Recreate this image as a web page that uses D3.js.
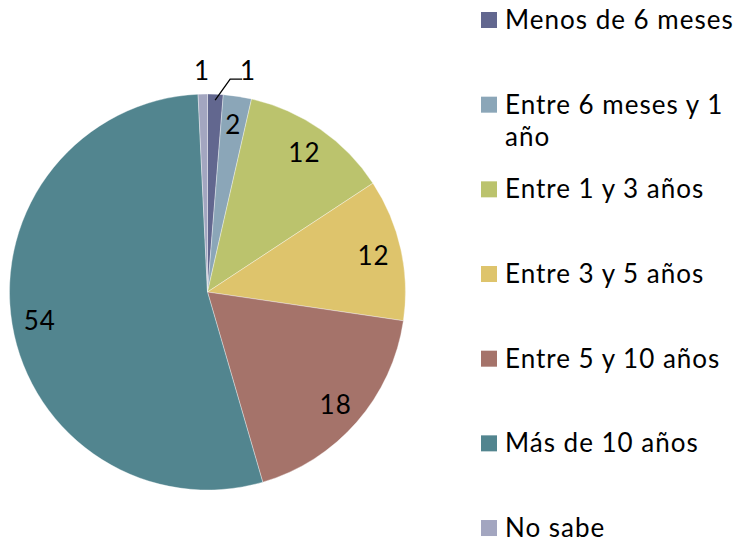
<!DOCTYPE html>
<html><head><meta charset="utf-8">
<script src="https://cdn.jsdelivr.net/npm/d3@7"></script>
<style>html,body{margin:0;padding:0;background:#fff;}svg{display:block;}</style>
</head><body><svg id="c" width="741" height="542"></svg>
<script>
const categories = ["Menos de 6 meses","Entre 6 meses y 1 año","Entre 1 y 3 años","Entre 3 y 5 años","Entre 5 y 10 años","Más de 10 años","No sabe"];
const values = [1.27, 2.30, 12.17, 11.58, 18.18, 53.74, 0.76];
const dataLabels = ["1","2","12","12","18","54","1"];
const colors = ["#62678f","#8ba6b8","#bbc36d","#dec46c","#a5736a","#52858f","#a3a6c0"];

const FONT = "Lato, 'Noto Sans', sans-serif";
const svg = d3.select("#c");
const cx = 207.5, cy = 292, R = 198;
const g = svg.append("g").attr("transform", `translate(${cx},${cy})`);

const pie = d3.pie().sort(null).value(d => d.v);
const data = categories.map((c,i)=>({c, v: values[i], lab: dataLabels[i], col: colors[i]}));
const arcs = pie(data);
const arc = d3.arc().innerRadius(0).outerRadius(R);

g.selectAll("path.s").data(arcs).join("path")
  .attr("class","s").attr("d", arc).attr("fill", d=>d.data.col)
  .attr("stroke","#fff").attr("stroke-width",0.6).attr("stroke-opacity",0.6);

const inArc = d3.arc().innerRadius(2*170 - R).outerRadius(R); // centroid radius 170
const outArc = d3.arc().innerRadius(224).outerRadius(224);
function label(x,y,t){
  g.append("text").attr("x",x).attr("y",y).attr("text-anchor","middle")
    .attr("dominant-baseline","central").attr("font-family",FONT).attr("font-size",26)
    .attr("letter-spacing",1).attr("fill","#000").text(t);
}
arcs.forEach(a => {
  const frac = (a.endAngle - a.startAngle) / (2*Math.PI);
  if (frac >= 0.02) {
    const [x,y] = inArc.centroid(a);
    label(x,y,a.data.lab);
  }
});
let prevX = null;
const small = arcs.filter(a => (a.endAngle - a.startAngle)/(2*Math.PI) < 0.02)
  .map(a => {
    let mid = (a.startAngle + a.endAngle)/2; if (mid > Math.PI) mid -= 2*Math.PI;
    return {a, mid};
  }).sort((p,q)=>p.mid-q.mid);
small.forEach(s => {
  const [x0,y0] = outArc.centroid({startAngle:s.mid,endAngle:s.mid});
  let x = x0, y = y0 + 2;
  let moved = false;
  if (prevX !== null && x < prevX + 46) { x = prevX + 46; moved = true; }
  prevX = x;
  if (moved) {
    const ex = Math.sin(s.mid)*(R-6), ey = -Math.cos(s.mid)*(R-6);
    g.append("path").attr("d", d3.line()([[ex,ey],[x-18,y+9],[x-6,y+9]]))
      .attr("fill","none").attr("stroke","#000").attr("stroke-width",1.3);
  }
  label(x,y,s.a.data.lab);
});

// legend
const legX = 481, sq = 16, legTop = 20, step = 84.67, maxW = 236;
const leg = svg.append("g");
data.forEach((d,i) => {
  const yc = legTop + i*step;
  leg.append("rect").attr("x",legX).attr("y",yc-sq/2).attr("width",sq).attr("height",sq).attr("fill",d.col);
  const t = leg.append("text").attr("x",legX+24).attr("y",yc+9)
    .attr("font-family",FONT).attr("font-size",26).attr("letter-spacing",1).attr("fill","#000");
  const words = d.c.split(" ");
  let line = [], tspan = t.append("tspan").attr("x",legX+24).attr("dy",0);
  words.forEach(w => {
    line.push(w);
    tspan.text(line.join(" "));
    if (tspan.node().getComputedTextLength() > maxW && line.length > 1) {
      line.pop(); tspan.text(line.join(" "));
      line = [w];
      tspan = t.append("tspan").attr("x",legX+24).attr("dy",32).text(w);
    }
  });
});
</script></body></html>
